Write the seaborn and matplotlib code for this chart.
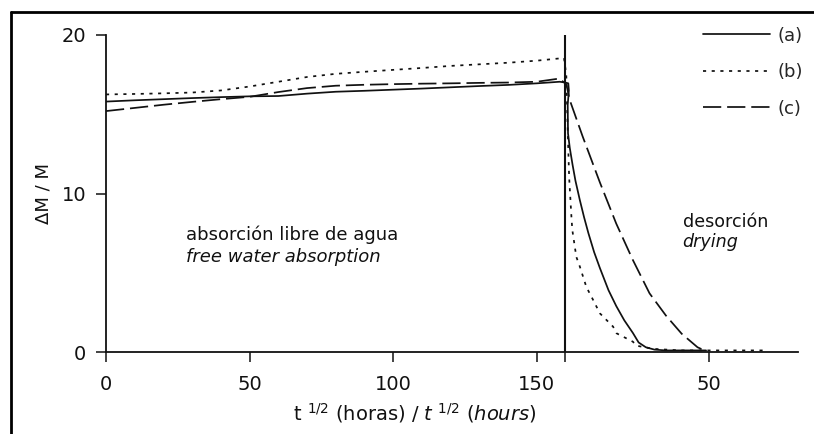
import numpy as np
import pandas as pd
import matplotlib
matplotlib.use("Agg")
import matplotlib.pyplot as plt
from matplotlib.lines import Line2D
import seaborn as sns

# ---------------- data ----------------
BREAK = 160  # position where the drying phase starts on the x axis

# absorption phase (x in t^1/2 hours)
x_abs_a = [0, 10, 20, 30, 40, 50, 60, 70, 80, 90, 100, 110, 120, 130, 140, 150, 158]
y_abs_a = [15.8, 15.88, 15.95, 16.02, 16.08, 16.13, 16.15, 16.3, 16.42, 16.48, 16.55,
           16.62, 16.7, 16.78, 16.85, 16.95, 17.05]
x_abs_b = [0, 10, 20, 30, 40, 50, 60, 70, 80, 90, 100, 110, 120, 130, 140, 150, 159.5]
y_abs_b = [16.25, 16.28, 16.32, 16.37, 16.5, 16.75, 17.05, 17.35, 17.55, 17.68, 17.8,
           17.92, 18.05, 18.15, 18.25, 18.38, 18.55]
x_abs_c = [0, 10, 20, 30, 40, 50, 60, 70, 80, 90, 100, 110, 120, 130, 140, 150, 157.8]
y_abs_c = [15.2, 15.4, 15.6, 15.78, 15.95, 16.1, 16.4, 16.65, 16.8, 16.86, 16.9, 16.93,
           16.95, 16.98, 17.0, 17.05, 17.25]

# drying phase (time since start of drying)
t_des_a = [0.0, 1.0, 1.2, 0.8, 0.9, 1.5, 2.5, 3.5, 5, 6.5, 8, 10, 12, 15, 17.7, 20.5, 23.5,
           25.5, 28, 31, 35, 49]
y_des_a = [17.0, 16.95, 16.5, 15.6, 13.8, 12.9, 11.8, 10.8, 9.6, 8.5, 7.5, 6.3, 5.3, 3.9,
           2.9, 2.0, 1.2, 0.6, 0.3, 0.15, 0.1, 0.1]
t_des_b = [0.3, 0.8, 1.3, 2.1, 2.4, 3.8, 5, 7.3, 9.6, 12, 16.6, 17.8, 23.5, 24.7, 30.5, 40, 69.5]
y_des_b = [17.5, 14.0, 11.0, 8.5, 7.7, 6.0, 5.4, 4.1, 3.3, 2.44, 1.6, 1.18, 0.65, 0.4,
           0.2, 0.1, 0.1]
t_des_c = [0.3, 1.5, 6, 12, 17.7, 23.5, 29.3, 35, 40.5, 46, 49]
y_des_c = [16.9, 15.9, 13.6, 10.7, 8.1, 5.8, 3.7, 2.3, 1.15, 0.3, 0.05]

series_labels = ["(a)", "(b)", "(c)"]
x_ticks = [0, 50, 100, 150, BREAK, BREAK + 50]
x_tick_labels = ["0", "50", "100", "150", "", "50"]
y_ticks = [0, 10, 20]

# ---------------- build long table ----------------
def seg(xa, ya, td, yd):
    return list(xa) + [BREAK + t for t in td], list(ya) + list(yd)

frames = []
for lab, (xa, ya, td, yd) in zip(series_labels, [
        (x_abs_a, y_abs_a, t_des_a, y_des_a),
        (x_abs_b, y_abs_b, t_des_b, y_des_b),
        (x_abs_c, y_abs_c, t_des_c, y_des_c)]):
    xx, yy = seg(xa, ya, td, yd)
    frames.append(pd.DataFrame({"x": xx, "y": yy, "serie": lab}))
df = pd.concat(frames, ignore_index=True)

# ---------------- plot ----------------
sns.set_style("ticks")
plt.rcParams["font.family"] = ["DejaVu Sans"]
plt.rcParams["mathtext.fontset"] = "dejavusans"

W, H = 814, 434
fig = plt.figure(figsize=(W / 100, H / 100), dpi=100)
ax = fig.add_axes([106 / W, 1 - 352 / H, (798 - 106) / W, (352 - 35) / H])

styles = {"(a)": "-", "(b)": (0, (1.8, 3.2)), "(c)": (0, (10.5, 3.4))}
for lab in series_labels:
    sub = df[df["serie"] == lab]
    sns.lineplot(data=sub, x="x", y="y", ax=ax, color="#111111", linewidth=1.25,
                 linestyle=styles[lab], sort=False, estimator=None, label=lab)

ax.axvline(BREAK, ymin=0, ymax=1, color="#111111", linewidth=1.5)

ax.set_xlim(0, 241)
ax.set_ylim(0, 20)
ax.set_xticks(x_ticks)
ax.set_xticklabels(x_tick_labels)
ax.set_yticks(y_ticks)
ax.tick_params(axis="both", direction="out", length=7.2, width=1.1,
               labelsize=14, colors="#111111")
ax.tick_params(axis="x", pad=9)
ax.tick_params(axis="y", pad=7)
sns.despine(ax=ax)
for s in ["left", "bottom"]:
    ax.spines[s].set_linewidth(1.3)
    ax.spines[s].set_color("#111111")

ax.set_ylabel("ΔM / M", fontsize=13, color="#111111")
ax.yaxis.set_label_coords(-0.078, 0.5)
ax.set_xlabel(r"t $^{1/2}$ (horas) / $\mathit{t}$ $^{1/2}$ $\mathit{(hours)}$",
              fontsize=14, color="#111111")
ax.xaxis.set_label_coords(0.4465, -0.155)

ax.text(27.8, 7.07, "absorción libre de agua", fontsize=13, color="#111111", va="baseline")
ax.text(27.8, 5.70, "free water absorption", fontsize=13, style="italic",
        color="#111111", va="baseline")
ax.text(200.8, 7.9, "desorción", fontsize=12.6, color="#111111", va="baseline")
ax.text(200.8, 6.64, "drying", fontsize=12.6, style="italic", color="#111111", va="baseline")

handles = ax.get_lines()[:3]
ax.legend(handles=handles, labels=series_labels, loc="upper left",
          bbox_to_anchor=((703 - 106) / 692, 1.026), frameon=False, fontsize=13,
          handlelength=3.7, handletextpad=0.4, labelspacing=1.02,
          borderpad=0, borderaxespad=0)

# outer frame (left and top edges visible)
fig.add_artist(Line2D([11 / W, 11 / W], [0, 1 - 12 / H], color="black", linewidth=2.0,
                      transform=fig.transFigure))
fig.add_artist(Line2D([11 / W, 1], [1 - 12 / H, 1 - 12 / H], color="black", linewidth=2.0,
                      transform=fig.transFigure))

fig.savefig("out.png", dpi=100)
